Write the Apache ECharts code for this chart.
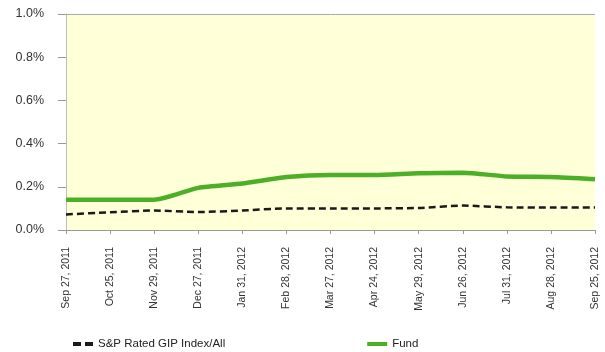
<!DOCTYPE html>
<html><head><meta charset="utf-8">
<script src="https://cdn.jsdelivr.net/npm/echarts@6/dist/echarts.min.js"></script>
<style>html,body{margin:0;padding:0;background:#fff}#c{width:605px;height:352px}</style>
</head><body><div id="c"></div>
<script>
const categories = ["Sep 27, 2011","Oct 25, 2011","Nov 29, 2011","Dec 27, 2011","Jan 31, 2012","Feb 28, 2012","Mar 27, 2012","Apr 24, 2012","May 29, 2012","Jun 26, 2012","Jul 31, 2012","Aug 28, 2012","Sep 25, 2012"];
const fundValues = [0.14,0.14,0.14,0.195,0.215,0.245,0.255,0.255,0.263,0.265,0.248,0.245,0.235];
const indexValues = [0.072,0.082,0.09,0.083,0.09,0.1,0.1,0.1,0.102,0.113,0.105,0.104,0.104];
const yTicks = [0,0.2,0.4,0.6,0.8,1.0];

const chart = echarts.init(document.getElementById('c'));
chart.setOption({
  animation:false,
  backgroundColor:'#fff',
  grid:{left:66,right:10,top:14,bottom:122,show:true,backgroundColor:'#FFFFD8',borderWidth:0},
  legend:{
    top:333,left:68,itemGap:142,itemWidth:20,itemHeight:4,
    textStyle:{fontFamily:'Liberation Sans, Arial',fontSize:11.5,color:'#222'},
    data:[{name:'S&P Rated GIP Index/All',icon:'path://M0,0H8V4H0Z M12,0H20V4H12Z'},{name:'Fund',icon:'rect'}]
  },
  xAxis:{
    type:'category',data:categories,boundaryGap:false,
    axisLine:{lineStyle:{color:'#999',width:1}},
    axisTick:{show:true,length:4,lineStyle:{color:'#999'},alignWithLabel:true},
    axisLabel:{rotate:90,interval:0,fontFamily:'Liberation Sans, Arial',fontSize:10.5,color:'#333',margin:17},
    splitLine:{show:false}
  },
  yAxis:{
    type:'value',min:0,max:1.0,interval:0.2,
    axisLine:{show:true,lineStyle:{color:'#bbb'}},
    axisTick:{show:true,length:8,lineStyle:{color:'#999'}},
    axisLabel:{formatter:v=>v.toFixed(1)+'%',fontFamily:'Liberation Sans, Arial',fontSize:12.5,color:'#333',margin:22},
    splitLine:{show:false}
  },
  series:[
    {name:'S&P Rated GIP Index/All',type:'line',data:indexValues,symbol:'none',smooth:0.2,
     itemStyle:{color:'#1a1a1a'},lineStyle:{color:'#1a1a1a',width:2.5,type:[7,4]},z:3},
    {name:'Fund',type:'line',data:fundValues,symbol:'none',smooth:0.2,
     itemStyle:{color:'#4caf28'},lineStyle:{color:'#4caf28',width:4.5},z:4,
     markLine:{silent:true,symbol:'none',label:{show:false},lineStyle:{color:'#aaa',type:'solid',width:1},data:[{yAxis:1.0}]}}
  ]
});
</script></body></html>
